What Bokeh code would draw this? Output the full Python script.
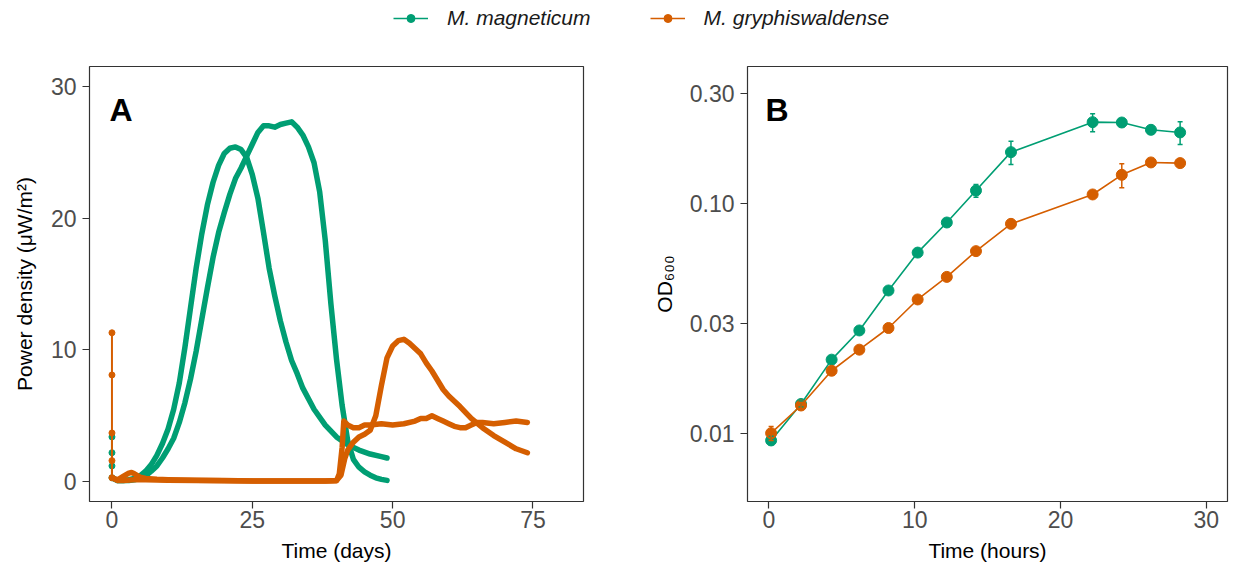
from bokeh.plotting import figure
from bokeh.models import (ColumnDataSource, Range1d, FixedTicker, Legend, LegendItem,
                          Whisker, TeeHead, Label)
from bokeh.layouts import column, row
from bokeh.embed import file_html
from bokeh.resources import INLINE

GREEN = "#009E73"
ORANGE = "#D55E00"
FONT = "Liberation Sans"

species = ["M. magneticum", "M. gryphiswaldense"]

# ---------------- Panel A: power density (uW/m2) vs time (days) ----------------
# start-up spikes at t = 0
mm_spike_t = [0, 0, 0, 0]
mm_spike_v = [3.4, 2.2, 1.2, 0.3]
mg_spike_t = [0, 0, 0, 0, 0]
mg_spike_v = [11.3, 8.1, 3.7, 1.6, 0.3]

# M. magneticum reactor 1
mm1_t = [0, 1, 2, 3, 4, 5, 6, 7, 8, 9, 10, 11, 12, 13, 14, 15, 16, 17, 18, 19, 20, 21, 22,
         23, 24, 25, 26, 27, 28, 29, 30, 31, 32, 33, 34, 36, 38, 40, 42, 44, 46, 48, 49]
mm1_v = [0.3, 0.1, 0.1, 0.15, 0.25, 0.45, 0.8, 1.3, 2.0, 2.9, 4.0, 5.5, 7.5, 10.2, 13.2, 16.2,
         18.8, 21.0, 22.7, 24.0, 24.9, 25.3, 25.4, 25.2, 24.6, 23.3, 21.5, 18.9, 16.2, 14.1,
         12.2, 10.6, 9.2, 8.2, 7.1, 5.5, 4.3, 3.4, 2.8, 2.4, 2.1, 1.9, 1.8]
# M. magneticum reactor 2
mm2_t = [0, 1, 2, 3, 4, 5, 6, 7, 8, 9, 10, 11, 12, 13, 14, 15, 16, 17, 18, 19, 20, 21, 22, 23,
         24, 25, 26, 27, 28, 29, 30, 31, 32, 33, 34, 35, 36, 37, 38, 39, 40, 41, 42, 43, 44, 45,
         46, 47, 48, 49]
mm2_v = [0.3, 0.1, 0.1, 0.1, 0.15, 0.25, 0.45, 0.8, 1.2, 1.8, 2.5, 3.3, 4.5, 6.0, 7.8, 9.9,
         12.3, 14.7, 17.0, 18.9, 20.4, 21.8, 23.0, 23.8, 24.7, 25.6, 26.5, 27.0, 27.0, 26.9,
         27.1, 27.2, 27.3, 26.9, 26.3, 25.4, 24.2, 22.0, 18.3, 13.5, 9.3, 5.8, 3.1, 1.7, 1.1,
         0.75, 0.5, 0.3, 0.18, 0.1]
# M. gryphiswaldense reactor 1
mg1_t = [0, 1, 2, 3, 3.5, 4, 5, 6, 8, 10, 15, 20, 25, 30, 35, 38, 40, 40.5, 41, 41.3, 42, 43,
         44, 45, 46, 48, 50, 52, 54, 55, 56, 57, 58, 59, 60, 61, 62, 63, 64, 65, 66, 68, 70,
         72, 74]
mg1_v = [0.3, 0.15, 0.4, 0.65, 0.7, 0.6, 0.35, 0.25, 0.18, 0.15, 0.12, 0.1, 0.06, 0.05, 0.05,
         0.05, 0.08, 0.6, 2.6, 4.6, 4.3, 4.1, 4.1, 4.3, 4.3, 4.4, 4.3, 4.4, 4.6, 4.8, 4.8, 5.0,
         4.8, 4.6, 4.4, 4.2, 4.1, 4.1, 4.3, 4.5, 4.5, 4.4, 4.5, 4.6, 4.5]
# M. gryphiswaldense reactor 2
mg2_t = [0, 1, 2, 4, 6, 10, 20, 30, 38, 40, 40.8, 41.5, 42, 43, 44, 45, 46, 47, 48, 49, 50,
         51, 52, 53, 54, 55, 56, 57, 58, 59, 60, 62, 64, 66, 68, 70, 72, 74]
mg2_v = [0.3, 0.1, 0.1, 0.15, 0.15, 0.12, 0.08, 0.05, 0.05, 0.1, 0.5, 1.8, 2.4, 3.0, 3.4, 3.6,
         3.9, 5.0, 7.3, 9.4, 10.3, 10.7, 10.8, 10.5, 10.1, 9.7, 9.0, 8.4, 7.7, 7.0, 6.5, 5.7,
         4.8, 4.1, 3.5, 3.0, 2.5, 2.2]

# ---------------- Panel B: OD600 vs time (hours) ----------------
od_hours = [0.15, 2.2, 4.3, 6.2, 8.2, 10.2, 12.2, 14.2, 16.6, 22.2, 24.2, 26.2, 28.2]
mm_od = [0.0093, 0.0134, 0.0209, 0.0280, 0.0418, 0.0611, 0.0826, 0.1138, 0.1672, 0.2258,
         0.2250, 0.2091, 0.2037]
mm_od_lo = [0.0089, 0.0130, 0.0203, 0.0274, 0.0410, 0.0601, 0.0812, 0.1065, 0.1477, 0.2050,
            0.2162, 0.2009, 0.1805]
mm_od_hi = [0.0097, 0.0138, 0.0215, 0.0286, 0.0426, 0.0621, 0.0840, 0.1209, 0.1866, 0.2455,
            0.2327, 0.2162, 0.2266]
mg_od = [0.0100, 0.0132, 0.0187, 0.0231, 0.0287, 0.0382, 0.0479, 0.0620, 0.0815, 0.1094,
         0.1332, 0.1508, 0.1498]
mg_od_lo = [0.0093, 0.0128, 0.0182, 0.0226, 0.0281, 0.0375, 0.0471, 0.0610, 0.0802, 0.1070,
            0.1169, 0.1480, 0.1470]
mg_od_hi = [0.0107, 0.0136, 0.0192, 0.0236, 0.0293, 0.0389, 0.0487, 0.0630, 0.0828, 0.1118,
            0.1488, 0.1536, 0.1526]

a_xticks = [0, 25, 50, 75]
a_yticks = [0, 10, 20, 30]
b_xticks = [0, 10, 20, 30]
b_yticks = [0.01, 0.03, 0.1, 0.3]
b_ylabels = {0.01: "0.01", 0.03: "0.03", 0.1: "0.10", 0.3: "0.30"}


def style(p):
    p.grid.visible = False
    p.outline_line_color = "#333333"
    p.outline_line_width = 1.2
    p.background_fill_color = "white"
    p.border_fill_color = "white"
    for ax in (p.xaxis, p.yaxis):
        ax.axis_line_color = None
        ax.major_tick_line_color = "#333333"
        ax.major_tick_line_width = 1.2
        ax.major_tick_out = 7
        ax.major_tick_in = 0
        ax.minor_tick_line_color = None
        ax.major_label_text_font = FONT
        ax.major_label_text_font_size = "23px"
        ax.major_label_text_color = "#4D4D4D"
        ax.axis_label_text_font = FONT
        ax.axis_label_text_font_size = "21px"
        ax.axis_label_text_font_style = "normal"
        ax.axis_label_text_color = "black"
    p.xaxis.major_label_standoff = 2
    p.yaxis.major_label_standoff = 6


# ---------------- top legend strip ----------------
top = figure(width=1233, height=48, x_range=Range1d(0, 1), y_range=Range1d(0, 1),
             output_backend="svg", toolbar_location=None, min_border=0,
             x_axis_location=None, y_axis_location=None)
top.grid.visible = False
top.outline_line_color = None
# keys only: points lie outside the visible range of this strip
rl1 = top.line(x=[-3, -2], y=[-3, -2], line_color=GREEN, line_width=1.6)
rs1 = top.scatter(x=[-3], y=[-3], size=9, color=GREEN)
rl2 = top.line(x=[-3, -2], y=[-3, -2], line_color=ORANGE, line_width=1.6)
rs2 = top.scatter(x=[-3], y=[-3], size=9, color=ORANGE)
legend = Legend(items=[LegendItem(label=species[0], renderers=[rl1, rs1]),
                       LegendItem(label=species[1], renderers=[rl2, rs2])],
                orientation="horizontal", location=(393, 18), glyph_width=35,
                glyph_height=20, label_height=20, label_standoff=19, spacing=59,
                padding=0, margin=0, border_line_color=None, background_fill_alpha=0,
                label_text_font=FONT, label_text_font_style="italic",
                label_text_font_size="21px", label_text_color="#1A1A1A")
top.add_layout(legend)

# ---------------- Panel A ----------------
pa = figure(width=640, height=519, x_range=Range1d(-4, 84), y_range=Range1d(-1.5, 31.5),
            output_backend="svg", toolbar_location=None,
            min_border_left=89, min_border_right=57, min_border_top=18, min_border_bottom=66)
style(pa)
pa.xaxis.ticker = FixedTicker(ticks=a_xticks)
pa.yaxis.ticker = FixedTicker(ticks=a_yticks)
pa.xaxis.axis_label = "Time (days)"
pa.yaxis.axis_label = "Power density (μW/m²)"
pa.xaxis.axis_label_standoff = 8
pa.yaxis.axis_label_standoff = 12

for t, v in ((mm1_t, mm1_v), (mm2_t, mm2_v)):
    pa.line(t, v, line_color=GREEN, line_width=5.5, line_join="round", line_cap="round")
pa.line(mm_spike_t, mm_spike_v, line_color=GREEN, line_width=2)
pa.scatter(mm_spike_t, mm_spike_v, size=6, color=GREEN)
for t, v in ((mg1_t, mg1_v), (mg2_t, mg2_v)):
    pa.line(t, v, line_color=ORANGE, line_width=5.5, line_join="round", line_cap="round")
pa.line(mg_spike_t, mg_spike_v, line_color=ORANGE, line_width=2)
pa.scatter(mg_spike_t, mg_spike_v, size=6, color=ORANGE)
pa.add_layout(Label(x=-0.43, y=28.18, text="A", text_font=FONT, text_font_style="bold",
                    text_font_size="32px", text_color="black", text_baseline="alphabetic"))

# ---------------- Panel B ----------------
pb = figure(width=593, height=519, x_range=Range1d(-1.47, 31.45),
            y_range=Range1d(0.005044, 0.3944), y_axis_type="log",
            output_backend="svg", toolbar_location=None,
            min_border_left=107, min_border_right=6, min_border_top=18, min_border_bottom=66)
style(pb)
pb.xaxis.ticker = FixedTicker(ticks=b_xticks)
pb.yaxis.ticker = FixedTicker(ticks=b_yticks)
pb.yaxis.major_label_overrides = b_ylabels
pb.xaxis.axis_label = "Time (hours)"
pb.yaxis.axis_label = "OD₆₀₀"
pb.xaxis.axis_label_standoff = 8
pb.yaxis.axis_label_standoff = 11

for y, lo, hi, col in ((mm_od, mm_od_lo, mm_od_hi, GREEN), (mg_od, mg_od_lo, mg_od_hi, ORANGE)):
    src = ColumnDataSource(dict(x=od_hours, y=y, lo=lo, hi=hi))
    pb.add_layout(Whisker(base="x", lower="lo", upper="hi", source=src, line_color=col,
                          line_width=1.5, level="glyph",
                          upper_head=TeeHead(size=5, line_color=col, line_width=1.5),
                          lower_head=TeeHead(size=5, line_color=col, line_width=1.5)))
    pb.line("x", "y", source=src, line_color=col, line_width=1.6)
    pb.scatter("x", "y", source=src, size=11, color=col)
pb.add_layout(Label(x=-0.23, y=0.2538, text="B", text_font=FONT, text_font_style="bold",
                    text_font_size="32px", text_color="black", text_baseline="alphabetic"))

layout = column(top, row(pa, pb))
open("out.html", "w").write(file_html(layout, INLINE))
